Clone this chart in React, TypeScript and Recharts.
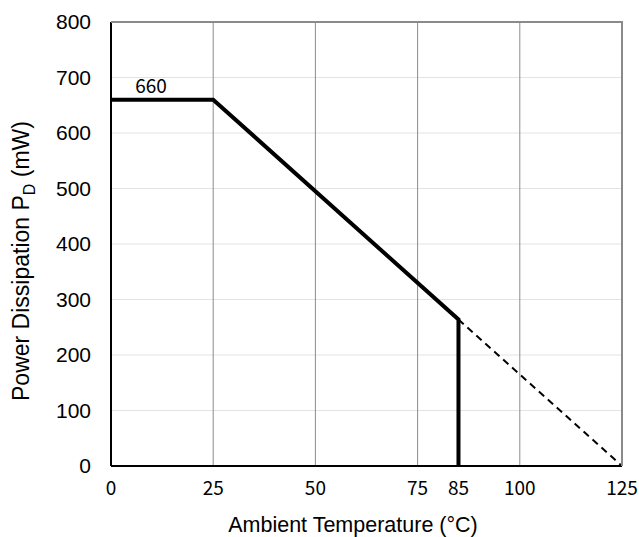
import { LineChart, Line, XAxis, YAxis, CartesianGrid } from "recharts"

// derating curve, solid part then dashed extrapolation
const temps = [0, 25, 85, 85]
const power = [660, 660, 264, 0]
const dashTemps = [85, 125]
const dashPower = [264, 0]
const xTicks = [0, 25, 50, 75, 85, 100, 125]
const yTicks = [0, 100, 200, 300, 400, 500, 600, 700, 800]
const gridX = [25, 50, 75, 100]
const ratedLabel = "660"

const solid = temps.map((t, i) => ({ t, p: power[i] }))
const dashed = dashTemps.map((t, i) => ({ t, p: dashPower[i] }))
const xMax = xTicks[xTicks.length - 1]
const yMax = yTicks[yTicks.length - 1]

const numFont = "'Noto Sans CJK JP', 'Noto Sans', sans-serif"
const axisFont = "'Liberation Sans', Arial, sans-serif"

function YTitle() {
  return (
    <text transform="translate(29,261) rotate(-90)" textAnchor="middle" fontFamily={axisFont} fontSize={23} fill="#000">
      Power Dissipation P
      <tspan fontSize={16} dy={6}>D</tspan>
      <tspan dy={-6}> (mW)</tspan>
    </text>
  )
}

function XTitle() {
  return (
    <text x={353} y={532} textAnchor="middle" fontFamily={axisFont} fontSize={21.5} fill="#000">
      Ambient Temperature (°C)
    </text>
  )
}

export default function App() {
  return (
    <div style={{ position: "absolute", left: 0, top: 0, width: 639, height: 537, background: "#fff" }}>
      <LineChart width={639} height={537} margin={{ top: 22, right: 17, bottom: 0, left: 0 }}>
        <CartesianGrid vertical={false} stroke="#e3e3e3" horizontalValues={yTicks} />
        <CartesianGrid horizontal={false} stroke="#8c8c8c" verticalValues={gridX} />
        <XAxis
          type="number"
          dataKey="t"
          domain={[0, xMax]}
          ticks={xTicks}
          interval={0}
          tickLine={false}
          axisLine={{ stroke: "#000", strokeWidth: 2 }}
          tickMargin={10}
          tick={{ fill: "#000", fontSize: 19, fontFamily: numFont }}
          height={71}
          label={<XTitle />}
        />
        <YAxis
          type="number"
          domain={[0, yMax]}
          ticks={yTicks}
          interval={0}
          tickLine={false}
          axisLine={{ stroke: "#000", strokeWidth: 2 }}
          tickMargin={14}
          tick={{ fill: "#000", fontSize: 21, fontFamily: axisFont }}
          width={111}
          label={<YTitle />}
        />
        <Line
          data={dashed}
          dataKey="p"
          stroke="#000"
          strokeWidth={2}
          strokeDasharray="7 5"
          dot={false}
          isAnimationActive={false}
        />
        <Line
          data={solid}
          dataKey="p"
          stroke="#000"
          strokeWidth={4}
          dot={false}
          isAnimationActive={false}
          label={(props: any) =>
            props.index === 0 ? (
              <text key="l" x={props.x + 40} y={props.y - 7} textAnchor="middle" fontFamily={numFont} fontSize={19} fill="#000">
                {ratedLabel}
              </text>
            ) : (
              <g key={"e" + props.index} />
            )
          }
        />
      </LineChart>
      {/* grey frame on top and right of the plot */}
      <div
        style={{
          position: "absolute",
          left: 111,
          top: 21,
          width: 512,
          height: 445,
          boxSizing: "border-box",
          borderTop: "2px solid #8a8a8a",
          borderRight: "2px solid #8a8a8a",
          pointerEvents: "none",
        }}
      />
    </div>
  )
}
